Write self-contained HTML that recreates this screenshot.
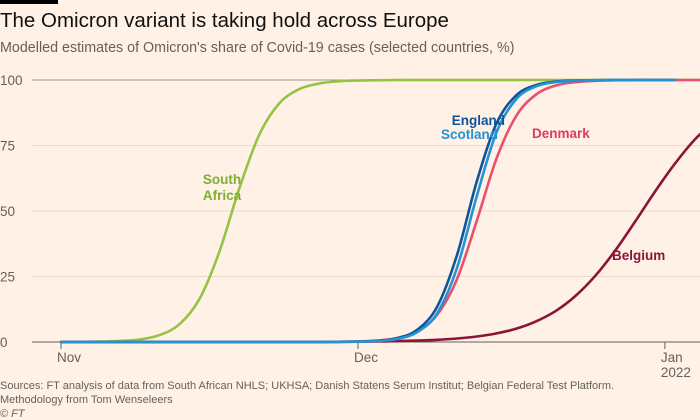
<!DOCTYPE html>
<html><head><meta charset="utf-8">
<style>
body{margin:0;background:#fff1e5;}
#wrap{position:relative;width:700px;height:420px;background:#fff1e5;font-family:"Liberation Sans",sans-serif;overflow:hidden;}
.t{position:absolute;white-space:nowrap;}
</style></head>
<body>
<div id="wrap">
<div class="t" style="left:0;top:0;width:58px;height:4px;background:#000"></div>
<div class="t" style="left:0;top:9px;font-size:20.5px;color:#111">The Omicron variant is taking hold across Europe</div>
<div class="t" style="left:0;top:40px;font-size:14.3px;color:#66605c">Modelled estimates of Omicron's share of Covid-19 cases (selected countries, %)</div>
<svg id="chart" width="700" height="420" style="position:absolute;left:0;top:0"></svg>
<div class="t" style="left:0;top:379px;font-size:11px;color:#66605c;line-height:14px">Sources: FT analysis of data from South African NHLS; UKHSA; Danish Statens Serum Institut; Belgian Federal Test Platform.<br>Methodology from Tom Wenseleers<br><i>© FT</i></div>
</div>
<script>
const days=[0,2,4,6,8,10,12,14,16,18,20,22,24,26,28,30,32,34,36,38,40,42,44,46,48,50,52,54,56,58,60,62,64,66];
const southAfrica=[0.02,0.06,0.15,0.39,1.0,2.7,6.9,16.5,34.5,58.5,78.9,90.9,96.4,98.6,99.5,99.8,99.9,100,100,100,100,100,100,100,100,100,100,100,100,100,100,100,100,100];
const england=[0,0,0,0,0,0,0,0,0,0,0,0,0,0,0.05,0.15,0.48,1.5,4.7,13.5,33.2,61.3,83.5,94.2,98.1,99.4,99.8,99.95,100,100,100,100];
const scotland=[0,0,0,0,0,0,0,0,0,0,0,0,0,0,0.04,0.12,0.38,1.2,3.8,11.0,28.3,55.7,80.1,92.8,97.6,99.2,99.7,99.9,100,100,100,100];
const denmark=[0,0,0,0,0,0,0,0,0,0,0,0,0,0,0.08,0.21,0.58,1.55,4.1,10.4,24,46.3,70.1,86.4,94.5,97.9,99.2,99.7,99.9,100,100,100,100,100];
const belgium=[0,0,0,0,0,0,0,0,0,0,0,0,0,0,0.08,0.14,0.21,0.34,0.54,0.85,1.34,2.1,3.3,5.1,7.9,11.9,17.7,25.4,35,46,57.4,68,77.2,84.3];
const yTicks=[0,25,50,75,100];
const xTickDays=[0,30,61];
const xTickLabels=["Nov","Dec","Jan"];
const ns="http://www.w3.org/2000/svg";
const svg=document.getElementById('chart');
const x=d=>61+d*9.9;
const y=v=>342-v*2.62;
function mk(tag,attrs){const e=document.createElementNS(ns,tag);for(const k in attrs)e.setAttribute(k,attrs[k]);svg.appendChild(e);return e;}
yTicks.forEach(t=>{
  const l=mk('line',{x1:32,x2:700,y1:y(t),y2:y(t),stroke:t===100?'#9e958d':(t===0?'#66605c':'#e6d9ce'),'stroke-width':1});
  
  
  const tx=mk('text',{x:0,y:y(t)+5,'font-size':13.5,fill:'#66605c','font-family':'Liberation Sans, sans-serif'});
  tx.textContent=t;
  
  
});
xTickDays.forEach((d,i)=>{
  const l=mk('line',{x1:x(d),x2:x(d),y1:342,y2:349,stroke:'#66605c'});
  
  
  const tx=mk('text',{x:x(d)-4,y:362,'font-size':13.5,fill:'#66605c','font-family':'Liberation Sans, sans-serif'});
  tx.textContent=xTickLabels[i];
  
  
});
const yr=mk('text',{x:x(61)-4,y:377,'font-size':13.5,fill:'#66605c','font-family':'Liberation Sans, sans-serif'});
yr.textContent='2022';


function pathFor(vals){
  const p=vals.map((v,i)=>[x(days[i]),y(v)]);
  let d='M'+p[0][0]+','+p[0][1];
  for(let i=0;i<p.length-1;i++){
    const p0=p[Math.max(0,i-1)],p1=p[i],p2=p[i+1],p3=p[Math.min(p.length-1,i+2)];
    const c1x=p1[0]+(p2[0]-p0[0])/6,c1y=p1[1]+(p2[1]-p0[1])/6;
    const c2x=p2[0]-(p3[0]-p1[0])/6,c2y=p2[1]-(p3[1]-p1[1])/6;
    d+=' C'+c1x+','+Math.min(c1y,342)+' '+c2x+','+Math.min(c2y,342)+' '+p2[0]+','+p2[1];
  }
  return d;
}
const clip=mk('clipPath',{id:'cp'});
const cr=document.createElementNS(ns,'rect');cr.setAttribute('x',0);cr.setAttribute('y',60);cr.setAttribute('width',700);cr.setAttribute('height',300);clip.appendChild(cr);
const series=[['belgium',belgium,'#8a1538'],['south-africa',southAfrica,'#96c342'],['denmark',denmark,'#e8506e'],['england',england,'#0f5499'],['scotland',scotland,'#2294d4']];
series.forEach(s=>{
  const p=mk('path',{d:pathFor(s[1]),fill:'none',stroke:s[2],'stroke-width':2.6,'clip-path':'url(#cp)','stroke-linecap':'round'});
  
  
});
const labels=[['South',222,184,'#7fae30','middle'],['Africa',222,200,'#7fae30','middle'],['England',505,125,'#0f5499','end'],['Scotland',498,139,'#2294d4','end'],['Denmark',532,138,'#e03a5f','start'],['Belgium',612,260,'#8a1538','start']];
labels.forEach(l=>{
  const t=mk('text',{x:l[1],y:l[2],'font-size':13.5,'font-weight':'bold',fill:l[3],'text-anchor':l[4],'font-family':'Liberation Sans, sans-serif'});
  t.textContent=l[0];
  
  
});
</script>
</body></html>
